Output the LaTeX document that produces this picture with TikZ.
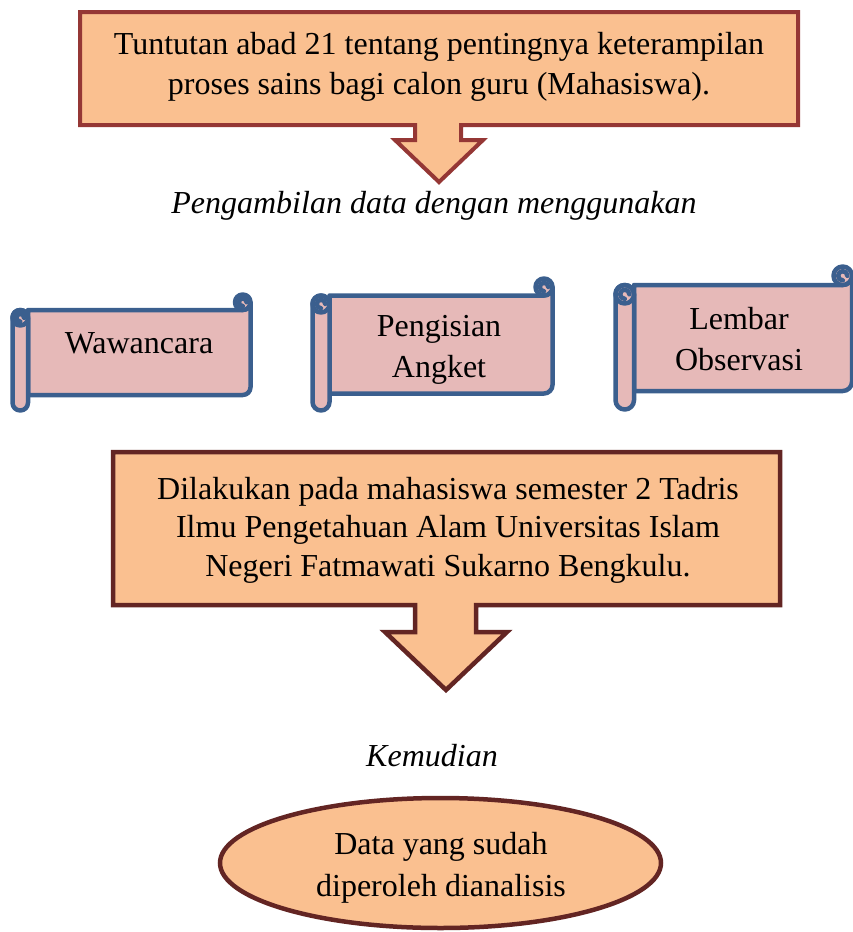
\documentclass[tikz,border=0pt]{standalone}
\usepackage{fontspec}
\setmainfont{Liberation Serif}
\usetikzlibrary{shapes.geometric}
\definecolor{peach}{HTML}{FAC090}
\definecolor{topborder}{HTML}{953735}
\definecolor{darkborder}{HTML}{632523}
\definecolor{scrollfill}{HTML}{E6B9B8}
\definecolor{scrollline}{HTML}{3B5F8E}
\tikzset{
  txt/.style={align=center, inner sep=0pt, font=\fontsize{32}{40}\selectfont},
  itxt/.style={inner sep=0pt, font=\fontsize{32}{40}\selectfont\itshape},
  callouttop/.style={fill=peach, draw=topborder, line width=4pt},
  calloutbot/.style={fill=peach, draw=darkborder, line width=4.5pt},
  scrollstyle/.style={fill=scrollfill, draw=scrollline, line width=4.5pt, line join=round, line cap=round},
}
% #1 x0, #2 y0, #3 width, #4 height, #5 roll size
\newcommand\myscroll[5]{%
\begin{scope}[shift={(#1,#2)}]
\pgfmathsetmacro\sW{#3}\pgfmathsetmacro\sH{#4}%
\pgfmathsetmacro\sC{#5}\pgfmathsetmacro\sh{#5/2}\pgfmathsetmacro\sq{#5/4}%
\filldraw[scrollstyle] (\sC,\sC) -- (\sW-\sh,\sC) arc[start angle=90,end angle=0,radius=\sh] -- (\sW,\sH-\sC-\sh) arc[start angle=0,end angle=90,radius=\sh] -- (\sC,\sH-\sC) -- cycle;
\filldraw[scrollstyle] (\sW-\sh,\sh) circle[radius=\sh];
\draw[scrollstyle, fill=none] (\sW-\sh,\sh+\sq) arc[start angle=90,end angle=360,radius=\sq];
\filldraw[scrollstyle, rounded corners=\sh pt] (0,\sC) rectangle (\sC,\sH);
\draw[scrollstyle, fill=none] (\sh,\sC+\sh) circle[radius=\sh];
\draw[scrollstyle, fill=none] (\sh,\sC+\sh+\sq) arc[start angle=90,end angle=360,radius=\sq];
\end{scope}}
\begin{document}
\begin{tikzpicture}[x=1pt,y=-1pt]
\useasboundingbox (0,0) rectangle (852,932);
% top callout
\filldraw[callouttop] (80,12) -- (798,12) -- (798,125) -- (461,125) -- (461,140) -- (483,140) -- (439,182) -- (395,140) -- (415,140) -- (415,125) -- (80,125) -- cycle;
\node[txt] (top) at (439,67) {Tuntutan abad 21 tentang pentingnya keterampilan\\proses sains bagi calon guru (Mahasiswa).};
\node[itxt] (ambil) at (434,206) {Pengambilan data dengan menggunakan};
% scrolls
\myscroll{12.5}{294.5}{238}{116}{15.5}
\myscroll{312.5}{278.5}{240}{132}{17}
\myscroll{615.5}{266.5}{236.5}{143}{18.5}
\node[txt] (s1) at (139,343) {Wawancara};
\node[txt] (s2) at (439,350) {Pengisian\\[1pt]Angket};
\node[txt] (s3) at (739,339) {Lembar\\[1pt]Observasi};
% bottom callout
\filldraw[calloutbot] (113,452) -- (780,452) -- (780,605) -- (476,605) -- (476,632) -- (507,632) -- (446,690) -- (385,632) -- (415,632) -- (415,605) -- (113,605) -- cycle;
\node[txt, font=\fontsize{32}{38.5}\selectfont] (mid) at (448,530) {Dilakukan pada mahasiswa semester 2 Tadris\\Ilmu Pengetahuan Alam Universitas Islam\\Negeri Fatmawati Sukarno Bengkulu.};
\node[itxt] (kemudian) at (432,756) {Kemudian};
% ellipse
\node[ellipse, fill=peach, draw=darkborder, line width=4.5pt, minimum width=441pt, minimum height=130pt, inner sep=0pt] (ell) at (440.5,863) {};
\node[txt, font=\fontsize{32}{42}\selectfont] (elltext) at (441,868) {Data yang sudah\\diperoleh dianalisis};
\end{tikzpicture}
\end{document}
